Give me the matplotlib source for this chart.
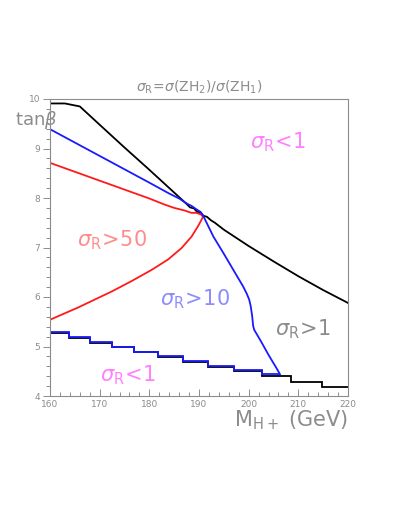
import matplotlib

matplotlib.use("Agg")
import matplotlib.pyplot as plt
from matplotlib.ticker import MultipleLocator

# black boundary (sigma_R = 1), upper branch
black_x = [160, 163, 166, 170, 175, 180, 185, 187.5, 188.2, 189.0, 189.6, 190.3,
           190.9, 191.6, 192.4, 193.2, 195, 200, 205, 210, 215, 220]
black_y = [9.91, 9.91, 9.85, 9.48, 9.02, 8.57, 8.11, 7.88, 7.81, 7.79, 7.72, 7.71,
           7.64, 7.62, 7.55, 7.50, 7.36, 7.03, 6.72, 6.42, 6.14, 5.88]

# black lower staircase
black_step_edges = [160, 163.8, 168, 172.4, 177, 181.7, 186.7, 191.9, 197.1,
                    202.6, 208.6, 214.7, 220]
black_step_levels = [5.28, 5.18, 5.08, 4.98, 4.88, 4.79, 4.69, 4.59, 4.50,
                     4.40, 4.29, 4.19]

# blue boundary (sigma_R = 10)
blue_x = [160, 165, 170, 175, 180, 184, 186, 187.5, 188.5, 189.5, 190.3, 190.85,
          192.9, 194.9, 196.9, 198.9, 199.6, 200.1, 200.4, 200.7, 200.9, 201.1,
          202.5, 204, 205.5, 206.3]
blue_y = [9.39, 9.12, 8.85, 8.58, 8.31, 8.09, 7.99, 7.89, 7.84, 7.77, 7.72, 7.64,
          7.22, 6.89, 6.55, 6.21, 6.07, 5.95, 5.82, 5.62, 5.42, 5.34, 5.10, 4.83,
          4.58, 4.44]
blue_step_edges = [160, 163.8, 168, 172.4, 177, 181.7, 186.7, 191.9, 197.1,
                   202.6, 206.3]
blue_step_levels = [5.29, 5.19, 5.09, 4.99, 4.89, 4.80, 4.70, 4.61, 4.52, 4.44]

# red boundary (sigma_R = 50)
red_x = [160, 165, 170, 175, 180, 183, 185, 187, 188.5, 189.5, 190.5, 190.8,
         190.5, 189.8, 188.5, 186.5, 183.8, 180.5, 176.4, 172.4, 165.7, 160]
red_y = [8.71, 8.53, 8.35, 8.17, 7.99, 7.87, 7.80, 7.75, 7.70, 7.70, 7.66, 7.62,
         7.56, 7.43, 7.22, 6.99, 6.76, 6.55, 6.32, 6.11, 5.79, 5.54]

GRAY = "#8c8c8c"

fig = plt.figure(figsize=(4.09, 5.29), dpi=100)
ax = fig.add_axes([50 / 409, 133 / 529, 298 / 409, 297 / 529])

lw = 1.3
ax.plot(black_x, black_y, color="black", lw=lw)
ax.stairs(black_step_levels, black_step_edges, baseline=None, color="black", lw=lw)
ax.plot(red_x, red_y, color="#ff1a1a", lw=lw)
ax.plot(blue_x, blue_y, color="#1a1aff", lw=lw)
ax.stairs(blue_step_levels, blue_step_edges, baseline=None, color="#1a1aff", lw=lw)

ax.set_xlim(160, 220)
ax.set_ylim(4, 10)
ax.xaxis.set_major_locator(MultipleLocator(10))
ax.xaxis.set_minor_locator(MultipleLocator(2))
ax.yaxis.set_major_locator(MultipleLocator(1))
ax.yaxis.set_minor_locator(MultipleLocator(0.2))
for s in ax.spines.values():
    s.set_color(GRAY)
    s.set_linewidth(0.8)
ax.tick_params(axis="x", which="both", direction="in", colors=GRAY,
               labelsize=6.5, pad=3)
ax.tick_params(axis="x", which="major", length=5, width=0.7)
ax.tick_params(axis="x", which="minor", length=3, width=0.7)
ax.tick_params(axis="y", which="both", direction="out", colors=GRAY,
               labelsize=6.5, pad=2)
ax.tick_params(axis="y", which="major", length=5, width=0.7)
ax.tick_params(axis="y", which="minor", length=3, width=0.7)

# region labels
ax.text(200.2, 9.12, r"$\sigma_{\rm R}\!<\!1$", color="#ff80ff", fontsize=15,
        va="center", ha="left")
ax.text(165.4, 7.14, r"$\sigma_{\rm R}\!>\!50$", color="#ff8c8c", fontsize=15,
        va="center", ha="left")
ax.text(182.1, 5.95, r"$\sigma_{\rm R}\!>\!10$", color="#8c8cff", fontsize=15,
        va="center", ha="left")
ax.text(205.3, 5.34, r"$\sigma_{\rm R}\!>\!1$", color=GRAY, fontsize=15,
        va="center", ha="left")
ax.text(170.1, 4.43, r"$\sigma_{\rm R}\!<\!1$", color="#ff80ff", fontsize=15,
        va="center", ha="left")

fig.text(0.487, 1 - 87 / 529,
         r"$\sigma_{\rm R}\!=\!\sigma({\rm ZH}_2)/\sigma({\rm ZH}_1)$",
         color=GRAY, fontsize=10, ha="center", va="center")
fig.text(15 / 409, 1 - 120 / 529, r"tan$\beta$", color=GRAY, fontsize=13,
         ha="left", va="center")
fig.text(348 / 409, 1 - 420 / 529, r"M$_{\rm H+}$ (GeV)", color=GRAY,
         fontsize=15, ha="right", va="center")

fig.savefig("out.png", dpi=100)
